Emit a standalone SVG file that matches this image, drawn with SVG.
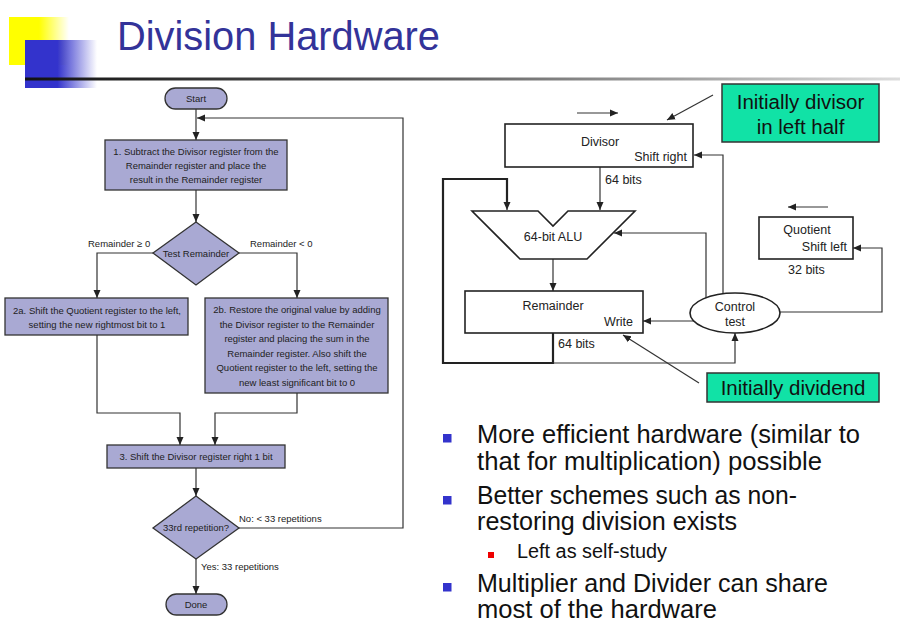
<svg xmlns="http://www.w3.org/2000/svg" width="900" height="625" viewBox="0 0 900 625">
<defs>
<linearGradient id="gy" x1="0" y1="0" x2="1" y2="0"><stop offset="0.5" stop-color="#ffff00"/><stop offset="1" stop-color="#ffff00" stop-opacity="0"/></linearGradient>
<linearGradient id="gb" x1="0" y1="0" x2="1" y2="0"><stop offset="0.45" stop-color="#3333cc"/><stop offset="1" stop-color="#3333cc" stop-opacity="0"/></linearGradient>
<linearGradient id="gl" x1="0" y1="0" x2="1" y2="0"><stop offset="0" stop-color="#111"/><stop offset="0.5" stop-color="#666"/><stop offset="1" stop-color="#ddd"/></linearGradient>
<marker id="ah" markerUnits="userSpaceOnUse" markerWidth="9" markerHeight="9" refX="8" refY="4.5" orient="auto"><path d="M0,1 L8,4.5 L0,8 z" fill="#222"/></marker>
</defs>
<style>
.fb{fill:#a9a9d3;stroke:#333;stroke-width:1.3}
.ft{font-family:"Liberation Sans",Arial,sans-serif;font-size:9.5px;fill:#222;text-anchor:middle}
.fl{font-family:"Liberation Sans",Arial,sans-serif;font-size:9.5px;fill:#222}
.ca{fill:none;stroke:#333;stroke-width:1.2;marker-end:url(#ah)}
.hb{fill:#fff;stroke:#222;stroke-width:1.6}
.ht{font-family:"Liberation Sans",Arial,sans-serif;font-size:12.5px;fill:#222}
.g{fill:#11e2a6;stroke:#333;stroke-width:1.5}
.gt{font-family:"Liberation Sans",Arial,sans-serif;font-size:20.5px;fill:#111;text-anchor:middle}
.bt{font-family:"Liberation Sans",Arial,sans-serif;font-size:25px;fill:#111}
.st{font-family:"Liberation Sans",Arial,sans-serif;font-size:19.5px;fill:#111}
</style>
<rect width="900" height="625" fill="#fff"/>
<g id="title">
<rect x="9" y="17" width="60" height="48" fill="url(#gy)"/>
<rect x="25" y="40" width="72" height="48" fill="url(#gb)"/>
<rect x="25" y="77.5" width="875" height="3" fill="url(#gl)"/>
<text x="117" y="50" font-family="'Liberation Sans',Arial,sans-serif" font-size="40" fill="#333399" textLength="323" lengthAdjust="spacingAndGlyphs">Division Hardware</text>
</g>
<g id="flow-connectors">
<path class="ca" d="M196,109 V140"/>
<path class="ca" d="M239,528 H403 V118 H197"/>
<path class="ca" d="M196,190 V222"/>
<path class="ca" d="M153,253 H97 V298"/>
<path class="ca" d="M239,253 H297 V298"/>
<path class="ca" d="M97,335 V413 H180 V445"/>
<path class="ca" d="M297,393 V413 H215 V445"/>
<path class="ca" d="M196,468 V496"/>
<path class="ca" d="M196,559 V594"/>
<text class="fl" x="88" y="247">Remainder ≥ 0</text>
<text class="fl" x="250" y="247">Remainder &lt; 0</text>
<text class="fl" x="239" y="522">No: &lt; 33 repetitions</text>
<text class="fl" x="201" y="570">Yes: 33 repetitions</text>
</g>
<g id="start"><rect class="fb" x="165" y="88" width="62" height="21" rx="10.5"/><text class="ft" x="196" y="102">Start</text></g>
<g id="step1"><rect class="fb" x="105" y="140" width="182" height="50"/>
<text class="ft" x="196" y="155">1.  Subtract the Divisor register from the</text>
<text class="ft" x="196" y="169">Remainder register and place the</text>
<text class="ft" x="196" y="183">result in the Remainder register</text></g>
<g id="test"><polygon class="fb" points="196,222 239,253 196,285 153,253"/><text class="ft" x="196" y="257">Test Remainder</text></g>
<g id="step2a"><rect class="fb" x="5" y="298" width="183" height="37"/>
<text class="ft" x="97" y="314">2a.  Shift the Quotient register to the left,</text>
<text class="ft" x="97" y="328">setting the new rightmost bit to 1</text></g>
<g id="step2b"><rect class="fb" x="205" y="298" width="183" height="95"/>
<text class="ft" x="297" y="313">2b.  Restore the original value by adding</text>
<text class="ft" x="297" y="327.5">the Divisor register to the Remainder</text>
<text class="ft" x="297" y="342">register and placing the sum in the</text>
<text class="ft" x="297" y="356.5">Remainder register. Also shift the</text>
<text class="ft" x="297" y="371">Quotient register to the left, setting the</text>
<text class="ft" x="297" y="385.5">new least significant bit to 0</text></g>
<g id="step3"><rect class="fb" x="107" y="445" width="178" height="23"/><text class="ft" x="196" y="460">3.  Shift the Divisor register right 1 bit</text></g>
<g id="rep"><polygon class="fb" points="196,496 239,528 196,559 153,528"/><text class="ft" x="196" y="531">33rd repetition?</text></g>
<g id="done"><rect class="fb" x="166" y="594" width="61" height="21" rx="10.5"/><text class="ft" x="196" y="608">Done</text></g>

<g id="hw-connectors">
<path class="ca" d="M577,113 H618"/>
<path class="ca" d="M713,95 L667,120"/>
<path class="ca" d="M723,294 V155 H694"/>
<path class="ca" d="M600,167 V210"/>
<path fill="none" stroke="#222" stroke-width="2.2" d="M553,333 V363 H443 V179 H507 V204"/>
<path class="ca" d="M507,200 V210" stroke-width="1.6"/>
<path class="ca" d="M553,363 H735 V333"/>
<path class="ca" d="M706,298 V233 H614"/>
<path class="ca" d="M553,259 V291"/>
<path class="ca" d="M694,321 H643"/>
<path class="ca" d="M780,312 H882 V248 H853"/>
<path class="ca" d="M828,207 H788"/>
<path class="ca" d="M699,383 L623,335"/>
<text class="ht" x="605" y="184">64 bits</text>
<text class="ht" x="558" y="348">64 bits</text>
<text class="ht" x="788" y="274">32 bits</text>
</g>
<g id="divisor"><rect class="hb" x="505" y="124" width="188" height="43"/>
<text class="ht" x="600" y="146" text-anchor="middle">Divisor</text>
<text class="ht" x="687" y="161" text-anchor="end">Shift right</text></g>
<g id="alu"><polygon class="hb" points="472,211 538,211 553,226 568,211 635,211 587,259 520,259"/>
<text class="ht" x="553" y="241" text-anchor="middle">64-bit ALU</text></g>
<g id="remainder"><rect class="hb" x="465" y="291" width="178" height="42"/>
<text class="ht" x="553" y="310" text-anchor="middle">Remainder</text>
<text class="ht" x="633" y="326" text-anchor="end">Write</text></g>
<g id="control"><ellipse class="hb" cx="735" cy="313" rx="45" ry="20"/>
<text class="ht" x="735" y="311" text-anchor="middle">Control</text>
<text class="ht" x="735" y="326" text-anchor="middle">test</text></g>
<g id="quotient"><rect class="hb" x="759" y="217" width="94" height="42"/>
<text class="ht" x="807" y="234" text-anchor="middle">Quotient</text>
<text class="ht" x="847" y="251" text-anchor="end">Shift left</text></g>
<g id="note-divisor"><rect class="g" x="722" y="84" width="157" height="58"/>
<text class="gt" x="800.5" y="109">Initially divisor</text>
<text class="gt" x="800.5" y="134">in left half</text></g>
<g id="note-dividend"><rect class="g" x="707" y="373" width="172" height="29"/>
<text class="gt" x="793" y="395">Initially dividend</text></g>

<g id="bullets">
<rect x="443" y="434" width="8.5" height="8.5" fill="#3333cc"/>
<rect x="443" y="496" width="8.5" height="8.5" fill="#3333cc"/>
<rect x="443" y="583" width="8.5" height="8.5" fill="#3333cc"/>
<rect x="488" y="552" width="6" height="6" fill="#ee0000"/>
<text class="bt" x="477" y="443" textLength="383" lengthAdjust="spacingAndGlyphs">More efficient hardware (similar to</text>
<text class="bt" x="477" y="470" textLength="345" lengthAdjust="spacingAndGlyphs">that for multiplication) possible</text>
<text class="bt" x="477" y="504" textLength="320" lengthAdjust="spacingAndGlyphs">Better schemes such as non-</text>
<text class="bt" x="477" y="530" textLength="260" lengthAdjust="spacingAndGlyphs">restoring division exists</text>
<text class="st" x="517" y="558" textLength="150" lengthAdjust="spacingAndGlyphs">Left as self-study</text>
<text class="bt" x="477" y="592" textLength="351" lengthAdjust="spacingAndGlyphs">Multiplier and Divider can share</text>
<text class="bt" x="477" y="618" textLength="240" lengthAdjust="spacingAndGlyphs">most of the hardware</text>
</g>
</svg>
